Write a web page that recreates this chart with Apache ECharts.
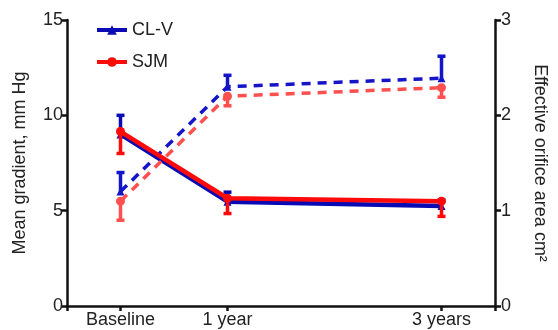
<!DOCTYPE html>
<html>
<head>
<meta charset="utf-8">
<script src="https://cdn.jsdelivr.net/npm/echarts@6/dist/echarts.min.js"></script>
<style>
  html, body { margin: 0; padding: 0; background: #fff; }
  #main { width: 558px; height: 330px; }
</style>
</head>
<body>
<div id="main"></div>
<script>
// time points (years) and their labels
var years = [0, 1, 3];
var yearLabels = ['Baseline', '1 year', '3 years'];

// mean gradient, mm Hg (left axis)
var clvGradient = [9.0, 5.47, 5.25];
var clvGradientErr = [1.0, 0.5, 0.3];   // drawn upward
var sjmGradient = [9.15, 5.65, 5.5];
var sjmGradientErr = [1.15, 0.8, 0.8];  // drawn downward

// effective orifice area, cm2 (right axis)
var clvEoa = [1.2, 2.3, 2.39];
var clvEoaErr = [0.2, 0.12, 0.23];
var sjmEoa = [1.1, 2.2, 2.29];
var sjmEoaErr = [0.2, 0.1, 0.1];

var blue = '#0a0ab4';
var blueDash = '#1414c8';
var red = '#ff0a0a';
var redDash = '#ff4f4f';

function pts(vals) {
    var out = [];
    for (var i = 0; i < years.length; i++) out.push([years[i], vals[i]]);
    return out;
}
function errs(vals, err, dir) {
    var out = [];
    for (var i = 0; i < years.length; i++) out.push([years[i], vals[i], vals[i] + dir * err[i]]);
    return out;
}

function errorBar(color) {
    return function (params, api) {
        var p0 = api.coord([api.value(0), api.value(1)]);
        var p1 = api.coord([api.value(0), api.value(2)]);
        var half = 4;
        var st = { stroke: color, lineWidth: 3.5 };
        return {
            type: 'group',
            children: [
                { type: 'line', shape: { x1: p0[0], y1: p0[1], x2: p1[0], y2: p1[1] }, style: st },
                { type: 'line', shape: { x1: p1[0] - half, y1: p1[1], x2: p1[0] + half, y2: p1[1] }, style: st }
            ]
        };
    };
}

var chart = echarts.init(document.getElementById('main'));

var txt = '#222';
var fs = 18;
var tickStyle = { width: 2.5, color: '#111' };

option = {
    animation: false,
    textStyle: { fontFamily: 'Liberation Sans, Arial, sans-serif' },
    grid: { left: 67, right: 63, top: 20, bottom: 24 },
    legend: {
        orient: 'vertical',
        left: 90,
        top: 16,
        itemWidth: 30,
        itemHeight: 12,
        itemGap: 14,
        textStyle: { fontSize: fs, color: txt },
        lineStyle: { width: 4 },
        data: ['CL-V', 'SJM']
    },
    xAxis: {
        type: 'value',
        min: -0.5,
        max: 3.5,
        splitLine: { show: false },
        axisLine: { show: true, lineStyle: { color: '#111', width: 2.5 } },
        axisTick: { show: true, length: 5, lineStyle: tickStyle, customValues: [-0.5, 0, 1, 3, 3.5] },
        axisLabel: {
            fontSize: fs, color: txt, margin: 5,
            customValues: years,
            formatter: function (v) {
                var i = years.indexOf(v);
                return i >= 0 ? yearLabels[i] : '';
            }
        }
    },
    yAxis: [
        {
            type: 'value',
            min: 0, max: 15, interval: 5,
            name: 'Mean gradient, mm Hg',
            nameLocation: 'middle',
            nameGap: 38,
            nameTextStyle: { fontSize: fs, color: txt },
            splitLine: { show: false },
            axisLine: { show: true, onZero: false, lineStyle: { color: '#111', width: 2.5 } },
            axisTick: { show: true, length: 6, lineStyle: tickStyle },
            axisLabel: { fontSize: fs, color: txt, margin: 4 }
        },
        {
            type: 'value',
            min: 0, max: 3, interval: 1,
            position: 'right',
            name: 'Effective orifice area cm\u00b2',
            nameLocation: 'middle',
            nameRotate: -90,
            nameGap: 36,
            nameTextStyle: { fontSize: fs, color: txt },
            splitLine: { show: false },
            axisLine: { show: true, onZero: false, lineStyle: { color: '#111', width: 2.5 } },
            axisTick: { show: true, length: 6, lineStyle: tickStyle },
            axisLabel: { fontSize: fs, color: txt, margin: 6 }
        }
    ],
    series: [
        {
            name: 'CL-V EOA', type: 'line', yAxisIndex: 1, data: pts(clvEoa),
            symbol: 'triangle', symbolSize: 8,
            lineStyle: { color: blueDash, width: 3.5, type: [9, 7] },
            itemStyle: { color: blueDash }, z: 2
        },
        {
            name: 'CL-V EOA err', type: 'custom', yAxisIndex: 1, data: errs(clvEoa, clvEoaErr, 1),
            renderItem: errorBar(blueDash), z: 2
        },
        {
            name: 'CL-V', type: 'line', data: pts(clvGradient),
            symbol: 'triangle', symbolSize: 8,
            lineStyle: { color: blue, width: 4.5 },
            itemStyle: { color: blue }, z: 3
        },
        {
            name: 'CL-V err', type: 'custom', data: errs(clvGradient, clvGradientErr, 1),
            renderItem: errorBar(blue), z: 3
        },
        {
            name: 'SJM EOA', type: 'line', yAxisIndex: 1, data: pts(sjmEoa),
            symbol: 'circle', symbolSize: 9,
            lineStyle: { color: redDash, width: 3.5, type: [9, 7] },
            itemStyle: { color: redDash }, z: 4
        },
        {
            name: 'SJM EOA err', type: 'custom', yAxisIndex: 1, data: errs(sjmEoa, sjmEoaErr, -1),
            renderItem: errorBar(redDash), z: 4
        },
        {
            name: 'SJM', type: 'line', data: pts(sjmGradient),
            symbol: 'circle', symbolSize: 9,
            lineStyle: { color: red, width: 4.5 },
            itemStyle: { color: red }, z: 5
        },
        {
            name: 'SJM err', type: 'custom', data: errs(sjmGradient, sjmGradientErr, -1),
            renderItem: errorBar(red), z: 5
        }
    ]
};

chart.setOption(option);
</script>
</body>
</html>
